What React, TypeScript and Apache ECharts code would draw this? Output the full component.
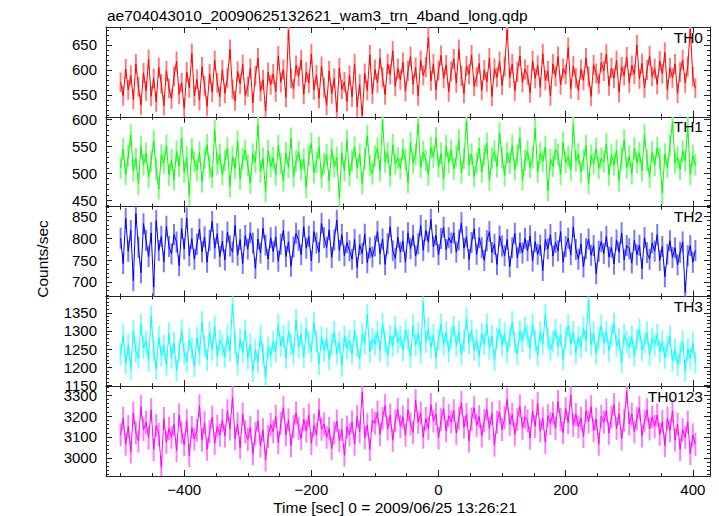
import React, { useEffect, useRef } from "react";
import * as echarts from "echarts";

const TITLE = "ae704043010_20090625132621_wam3_trn_4band_long.qdp";
const X_TITLE = "Time [sec] 0 = 2009/06/25 13:26:21";
const Y_TITLE = "Counts/sec";
const BANDS = ["TH0", "TH1", "TH2", "TH3", "TH0123"];
const COLORS = ["#ff0000", "#00ff00", "#0000ff", "#00ffff", "#ff00ff"];
const ERR_COLORS = ["#ff7a7a", "#7aff7a", "#7a7aff", "#7affff", "#ff7aff"];

// time bins (sec): start and width
const T_START = -500;
const T_STEP = 4;

const TH0 = [
  575, 548, 602, 560, 589, 541, 612, 566, 530, 594,
  558, 621, 547, 583, 536, 605, 572, 529, 598, 563,
  542, 587, 617, 551, 574, 523, 596, 564, 633, 548,
  581, 539, 606, 568, 527, 592, 555, 619, 574, 546,
  600, 553, 584, 641, 561, 538, 597, 572, 611, 549,
  566, 603, 534, 588, 624, 557, 580, 518, 595, 570,
  592, 556, 628, 575, 601, 545, 679, 583, 562, 609,
  587, 620, 551, 596, 574, 632, 560, 590, 543, 607,
  565, 529, 598, 552, 583, 516, 604, 561, 576, 537,
  589, 546, 612, 526, 571, 508, 593, 559, 630, 552,
  601, 574, 623, 585, 550, 612, 591, 638, 567, 603,
  580, 615, 557, 598, 627, 571, 605, 548, 619, 589,
  606, 665, 578, 612, 560, 599, 629, 583, 610, 556,
  597, 622, 574, 641, 588, 553, 608, 591, 630, 567,
  586, 613, 559, 600, 576, 624, 547, 603, 585, 617,
  569, 607, 681, 584, 612, 558, 596, 628, 575, 601,
  590, 554, 618, 583, 609, 565, 632, 579, 598, 548,
  612, 587, 627, 570, 603, 591, 645, 562, 608, 584,
  559, 601, 579, 624, 586, 547, 610, 593, 572, 615,
  598, 632, 568, 604, 583, 619, 555, 606, 589, 626,
  574, 609, 591, 650, 582, 613, 564, 600, 628, 587,
  603, 571, 618, 592, 635, 560, 604, 584, 612, 553,
  596, 620, 574, 607, 682, 586, 563,
];

const TH1 = [
  510, 545, 498, 532, 571, 505, 527, 480, 549, 516,
  537, 493, 522, 560, 508, 471, 534, 519, 552, 497,
  525, 488, 541, 513, 566, 502, 530, 459, 546, 521,
  506, 539, 484, 528, 553, 511, 493, 580, 517, 535,
  498, 524, 547, 476, 531, 509, 560, 489, 527, 543,
  515, 482, 536, 521, 590, 503, 528, 466, 542, 512,
  529, 497, 551, 518, 486, 538, 511, 565, 494, 523,
  540, 507, 526, 474, 533, 556, 501, 520, 548, 492,
  518, 535, 486, 544, 512, 529, 455, 537, 505, 561,
  496, 523, 549, 510, 536, 481, 527, 570, 514, 499,
  532, 546, 505, 598, 521, 538, 495, 553, 517, 529,
  509, 544, 526, 483, 557, 519, 535, 592, 511, 540,
  524, 497, 548, 530, 566, 512, 537, 489, 551, 520,
  543, 508, 531, 562, 501, 528, 597, 515, 536, 494,
  519, 547, 503, 533, 556, 487, 528, 541, 512, 575,
  530, 496, 538, 519, 552, 507, 534, 566, 488, 524,
  541, 511, 529, 583, 503, 537, 522, 549, 468, 526,
  513, 544, 535, 498, 557, 520, 531, 506, 590, 523,
  536, 502, 525, 551, 481, 533, 518, 546, 509, 528,
  521, 555, 497, 534, 516, 543, 486, 529, 562, 510,
  532, 499, 547, 520, 538, 505, 571, 524, 493, 540,
  515, 548, 527, 463, 536, 511, 552, 596, 519, 530,
  507, 541, 523, 586, 498, 533, 516,
];

const TH2 = [
  800, 742, 845, 770, 818, 703, 856, 779, 721, 833,
  795, 758, 812, 688, 840, 772, 804, 746, 827, 781,
  764, 808, 791, 737, 822, 775, 846, 760, 799, 752,
  786, 821, 769, 803, 745, 795, 838, 777, 810, 758,
  793, 750, 814, 782, 768, 829, 761, 797, 742, 806,
  775, 812, 789, 731, 798, 766, 823, 784, 752, 801,
  769, 803, 747, 786, 818, 758, 792, 736, 780, 811,
  795, 762, 826, 777, 804, 748, 815, 789, 768, 834,
  801, 779, 819, 756, 796, 841, 772, 808, 760, 790,
  771, 752, 797, 733, 785, 765, 809, 744, 778, 757,
  782, 815, 764, 798, 740, 787, 826, 771, 754, 802,
  768, 793, 745, 812, 776, 806, 759, 787, 829, 772,
  818, 791, 843, 780, 807, 762, 799, 825, 774, 801,
  789, 812, 768, 796, 835, 777, 803, 751, 790, 822,
  763, 801, 778, 749, 794, 815, 767, 786, 740, 805,
  782, 760, 797, 735, 778, 811, 755, 789, 766, 800,
  771, 805, 748, 792, 763, 784, 726, 797, 775, 808,
  759, 790, 771, 815, 745, 781, 800, 762, 826, 774,
  752, 787, 734, 776, 798, 761, 783, 719, 770, 792,
  765, 804, 757, 779, 741, 796, 768, 812, 750, 783,
  776, 743, 795, 762, 784, 730, 801, 767, 752, 789,
  770, 808, 749, 781, 712, 763, 794, 756, 778, 739,
  768, 791, 676, 760, 783, 745, 772,
];

const TH3 = [
  1235, 1288, 1210, 1262, 1195, 1301, 1244, 1226, 1318, 1253,
  1271, 1218, 1340, 1247, 1196, 1283, 1232, 1259, 1207, 1293,
  1226, 1268, 1191, 1245, 1302, 1238, 1215, 1277, 1252, 1203,
  1281, 1236, 1325, 1258, 1220, 1296, 1249, 1312, 1231, 1274,
  1260, 1229, 1288, 1246, 1375, 1265, 1208, 1279, 1241, 1302,
  1224, 1263, 1190, 1248, 1215, 1287, 1236, 1172, 1255, 1230,
  1271, 1243, 1317, 1259, 1286, 1226, 1298, 1264, 1237, 1330,
  1255, 1290, 1228, 1307, 1268, 1244, 1322, 1273, 1209, 1283,
  1246, 1279, 1221, 1262, 1297, 1238, 1269, 1205, 1285, 1253,
  1274, 1236, 1301, 1258, 1223, 1291, 1266, 1344, 1242, 1278,
  1263, 1298, 1245, 1320, 1271, 1232, 1287, 1259, 1311, 1268,
  1284, 1247, 1302, 1276, 1229, 1315, 1261, 1293, 1240, 1380,
  1270, 1306, 1254, 1289, 1225, 1277, 1318, 1262, 1296, 1243,
  1281, 1312, 1259, 1297, 1236, 1273, 1335, 1266, 1301, 1248,
  1275, 1230, 1292, 1263, 1318, 1251, 1286, 1219, 1279, 1305,
  1260, 1293, 1241, 1282, 1325, 1268, 1236, 1299, 1272, 1310,
  1288, 1252, 1317, 1274, 1233, 1296, 1265, 1345, 1279, 1249,
  1271, 1303, 1258, 1289, 1222, 1281, 1316, 1264, 1297, 1240,
  1283, 1256, 1309, 1273, 1385, 1262, 1294, 1238, 1280, 1315,
  1266, 1298, 1245, 1287, 1321, 1259, 1277, 1214, 1290, 1270,
  1255, 1284, 1232, 1276, 1304, 1247, 1268, 1296, 1235, 1279,
  1262, 1290, 1243, 1271, 1226, 1258, 1285, 1217, 1249, 1206,
  1238, 1272, 1190, 1250, 1224, 1267, 1213,
];

const TH0123 = [
  3110, 3190, 3065, 3150, 3028, 3215, 3120, 3080, 3245, 3135,
  3170, 3095, 3230, 3040, 3155, 3112, 2955, 3188, 3075, 3140,
  3098, 3160, 3035, 3205, 3120, 3062, 3178, 3010, 3145, 3090,
  3132, 3250, 3085, 3168, 3041, 3126, 3195, 3070, 3152, 3108,
  3180, 3105, 3225, 3138, 3290, 3092, 3163, 3048, 3210, 3125,
  3088, 3146, 3020, 3115, 3177, 3056, 3134, 2990, 3102, 3160,
  3125, 3198, 3072, 3165, 3240, 3110, 3182, 3058, 3150, 3215,
  3140, 3092, 3185, 3128, 3205, 3069, 3156, 3110, 3230, 3137,
  3162, 3098, 3140, 3045, 3119, 3176, 3082, 3135, 3012, 3148,
  3110, 3172, 3065, 3198, 3124, 3315, 3095, 3158, 3040, 3181,
  3165, 3220, 3112, 3190, 3250, 3138, 3205, 3084, 3178, 3232,
  3150, 3196, 3108, 3230, 3162, 3122, 3275, 3170, 3215, 3098,
  3188, 3140, 3255, 3176, 3210, 3095, 3182, 3236, 3128, 3201,
  3172, 3226, 3118, 3190, 3265, 3147, 3208, 3080, 3185, 3240,
  3155, 3198, 3105, 3178, 3232, 3140, 3212, 3060, 3170, 3220,
  3135, 3192, 3280, 3160, 3207, 3112, 3185, 3248, 3142, 3196,
  3178, 3095, 3225, 3150, 3260, 3128, 3190, 3075, 3202, 3164,
  3215, 3140, 3270, 3182, 3120, 3236, 3168, 3300, 3155, 3209,
  3148, 3190, 3102, 3225, 3172, 3245, 3130, 3186, 3065, 3199,
  3170, 3228, 3118, 3194, 3255, 3140, 3212, 3090, 3180, 3318,
  3162, 3210, 3125, 3188, 3240, 3105, 3176, 3230, 3138, 3196,
  3150, 3205, 3112, 3174, 3058, 3190, 3130, 3225, 3085, 3162,
  3040, 3135, 3098, 3172, 3020, 3110, 3065,
];

const SERIES = [TH0, TH1, TH2, TH3, TH0123];
const ERRORS = [20, 20, 24, 30, 55];

const X_MIN = -523;
const X_MAX = 427;
const X_LABELS = [-400, -200, 0, 200, 400];
const X_MINOR = [-500, -450, -400, -350, -300, -250, -200, -150, -100, -50, 0, 50, 100, 150, 200, 250, 300, 350, 400];

const Y_MIN = [506, 438, 667, 1148, 2913];
const Y_MAX = [686, 605, 872, 1395, 3343];
const Y_LABELS = [
  [550, 600, 650],
  [450, 500, 550, 600],
  [700, 750, 800, 850],
  [1150, 1200, 1250, 1300, 1350],
  [3000, 3100, 3200, 3300],
];
const Y_MINOR_STEP = [10, 10, 10, 10, 20];

const FONT = "'Liberation Sans', Arial, Helvetica, sans-serif";
const AXIS_COLOR = "#222";
const GRID_TOP = 27;
const PANEL_H = 89.8;
const GRID_LEFT = 106;
const GRID_RIGHT = 9;

function minorValues(k: number): number[] {
  const step = Y_MINOR_STEP[k];
  const out: number[] = [];
  for (let v = Math.ceil(Y_MIN[k] / step) * step; v <= Y_MAX[k]; v += step) out.push(v);
  return out;
}

export default function App() {
  const ref = useRef<HTMLDivElement>(null);

  useEffect(() => {
    if (!ref.current) return;
    const chart = echarts.init(ref.current, undefined, { renderer: "svg" });

    const grids: any[] = [];
    const xAxes: any[] = [];
    const yAxes: any[] = [];
    const series: any[] = [];
    const graphics: any[] = [];

    const lineOn = { show: true, onZero: false, lineStyle: { color: AXIS_COLOR, width: 1 } };
    const lineOff = { show: false, onZero: false };

    BANDS.forEach((band, k) => {
      const top = GRID_TOP + PANEL_H * k;
      grids.push({ left: GRID_LEFT, right: GRID_RIGHT, top, height: PANEL_H, containLabel: false });

      const xBase = {
        gridIndex: k,
        type: "value",
        min: X_MIN,
        max: X_MAX,
        splitLine: { show: false },
        axisLabel: { show: false },
      };
      const xi = xAxes.length;
      xAxes.push({
        ...xBase,
        position: "bottom",
        axisLine: lineOn,
        axisTick: { show: true, inside: true, length: 6, customValues: X_LABELS, lineStyle: { color: AXIS_COLOR } },
        axisLabel: {
          show: k === BANDS.length - 1,
          customValues: X_LABELS,
          formatter: (v: number) => String(v).replace("-", "\u2212"),
          margin: 6,
          color: "#000",
          fontSize: 15,
          fontFamily: FONT,
        },
      });
      xAxes.push({
        ...xBase,
        position: "bottom",
        axisLine: lineOff,
        axisTick: { show: true, inside: true, length: 3, customValues: X_MINOR, lineStyle: { color: AXIS_COLOR } },
      });
      xAxes.push({
        ...xBase,
        position: "top",
        axisLine: lineOn,
        axisTick: { show: true, inside: true, length: 6, customValues: X_LABELS, lineStyle: { color: AXIS_COLOR } },
      });
      xAxes.push({
        ...xBase,
        position: "top",
        axisLine: lineOff,
        axisTick: { show: true, inside: true, length: 3, customValues: X_MINOR, lineStyle: { color: AXIS_COLOR } },
      });

      const yBase = {
        gridIndex: k,
        type: "value",
        min: Y_MIN[k],
        max: Y_MAX[k],
        splitLine: { show: false },
        axisLabel: { show: false },
      };
      const yi = yAxes.length;
      const minors = minorValues(k);
      yAxes.push({
        ...yBase,
        position: "left",
        axisLine: lineOn,
        axisTick: { show: true, inside: true, length: 6, customValues: Y_LABELS[k], lineStyle: { color: AXIS_COLOR } },
        axisLabel: {
          show: true,
          customValues: Y_LABELS[k],
          formatter: (v: number) => String(v),
          margin: 9,
          color: "#000",
          fontSize: 15,
          fontFamily: FONT,
        },
      });
      yAxes.push({
        ...yBase,
        position: "left",
        axisLine: lineOff,
        axisTick: { show: true, inside: true, length: 3, customValues: minors, lineStyle: { color: AXIS_COLOR } },
      });
      yAxes.push({
        ...yBase,
        position: "right",
        axisLine: lineOn,
        axisTick: { show: true, inside: true, length: 6, customValues: Y_LABELS[k], lineStyle: { color: AXIS_COLOR } },
      });
      yAxes.push({
        ...yBase,
        position: "right",
        axisLine: lineOff,
        axisTick: { show: true, inside: true, length: 3, customValues: minors, lineStyle: { color: AXIS_COLOR } },
      });

      const vals = SERIES[k];
      const err = ERRORS[k];
      const pts = vals.map((v, i) => [T_START + i * T_STEP, v]);
      // error bars: vertical segments (clamped to the panel range) separated by gaps
      const errPts: any[] = [];
      vals.forEach((v, i) => {
        const t = T_START + i * T_STEP;
        const lo = Math.max(v - err, Y_MIN[k]);
        const hi = Math.min(v + err, Y_MAX[k]);
        errPts.push([t, lo], [t, hi], [t, "-"]);
      });

      series.push({
        type: "line",
        xAxisIndex: xi,
        yAxisIndex: yi,
        data: errPts,
        showSymbol: false,
        lineStyle: { color: ERR_COLORS[k], width: 2 },
        z: 3,
      });
      series.push({
        type: "line",
        xAxisIndex: xi,
        yAxisIndex: yi,
        data: pts,
        showSymbol: false,
        lineStyle: { color: COLORS[k], width: 1 },
        z: 4,
      });

      graphics.push({
        type: "text",
        x: 703,
        y: top + 10,
        style: {
          text: band,
          fill: "#000",
          font: `15.5px ${FONT}`,
          textAlign: "right",
          textVerticalAlign: "middle",
        },
        z: 10,
      });
    });

    graphics.push({
      type: "text",
      x: 107,
      y: 15,
      style: { text: TITLE, fill: "#000", font: `15.5px ${FONT}`, textAlign: "left", textVerticalAlign: "middle" },
    });
    graphics.push({
      type: "text",
      x: 395,
      y: 507,
      style: { text: X_TITLE, fill: "#000", font: `15.5px ${FONT}`, textAlign: "center", textVerticalAlign: "middle" },
    });
    graphics.push({
      type: "text",
      x: 42,
      y: 259,
      rotation: Math.PI / 2,
      style: { text: Y_TITLE, fill: "#000", font: `15.5px ${FONT}`, textAlign: "center", textVerticalAlign: "middle" },
    });

    chart.setOption({
      animation: false,
      backgroundColor: "#ffffff",
      grid: grids,
      xAxis: xAxes,
      yAxis: yAxes,
      series,
      graphic: graphics,
    });

    return () => chart.dispose();
  }, []);

  return (
    <div
      ref={ref}
      style={{ position: "fixed", left: 0, top: 0, width: 719, height: 516, background: "#fff" }}
    />
  );
}
